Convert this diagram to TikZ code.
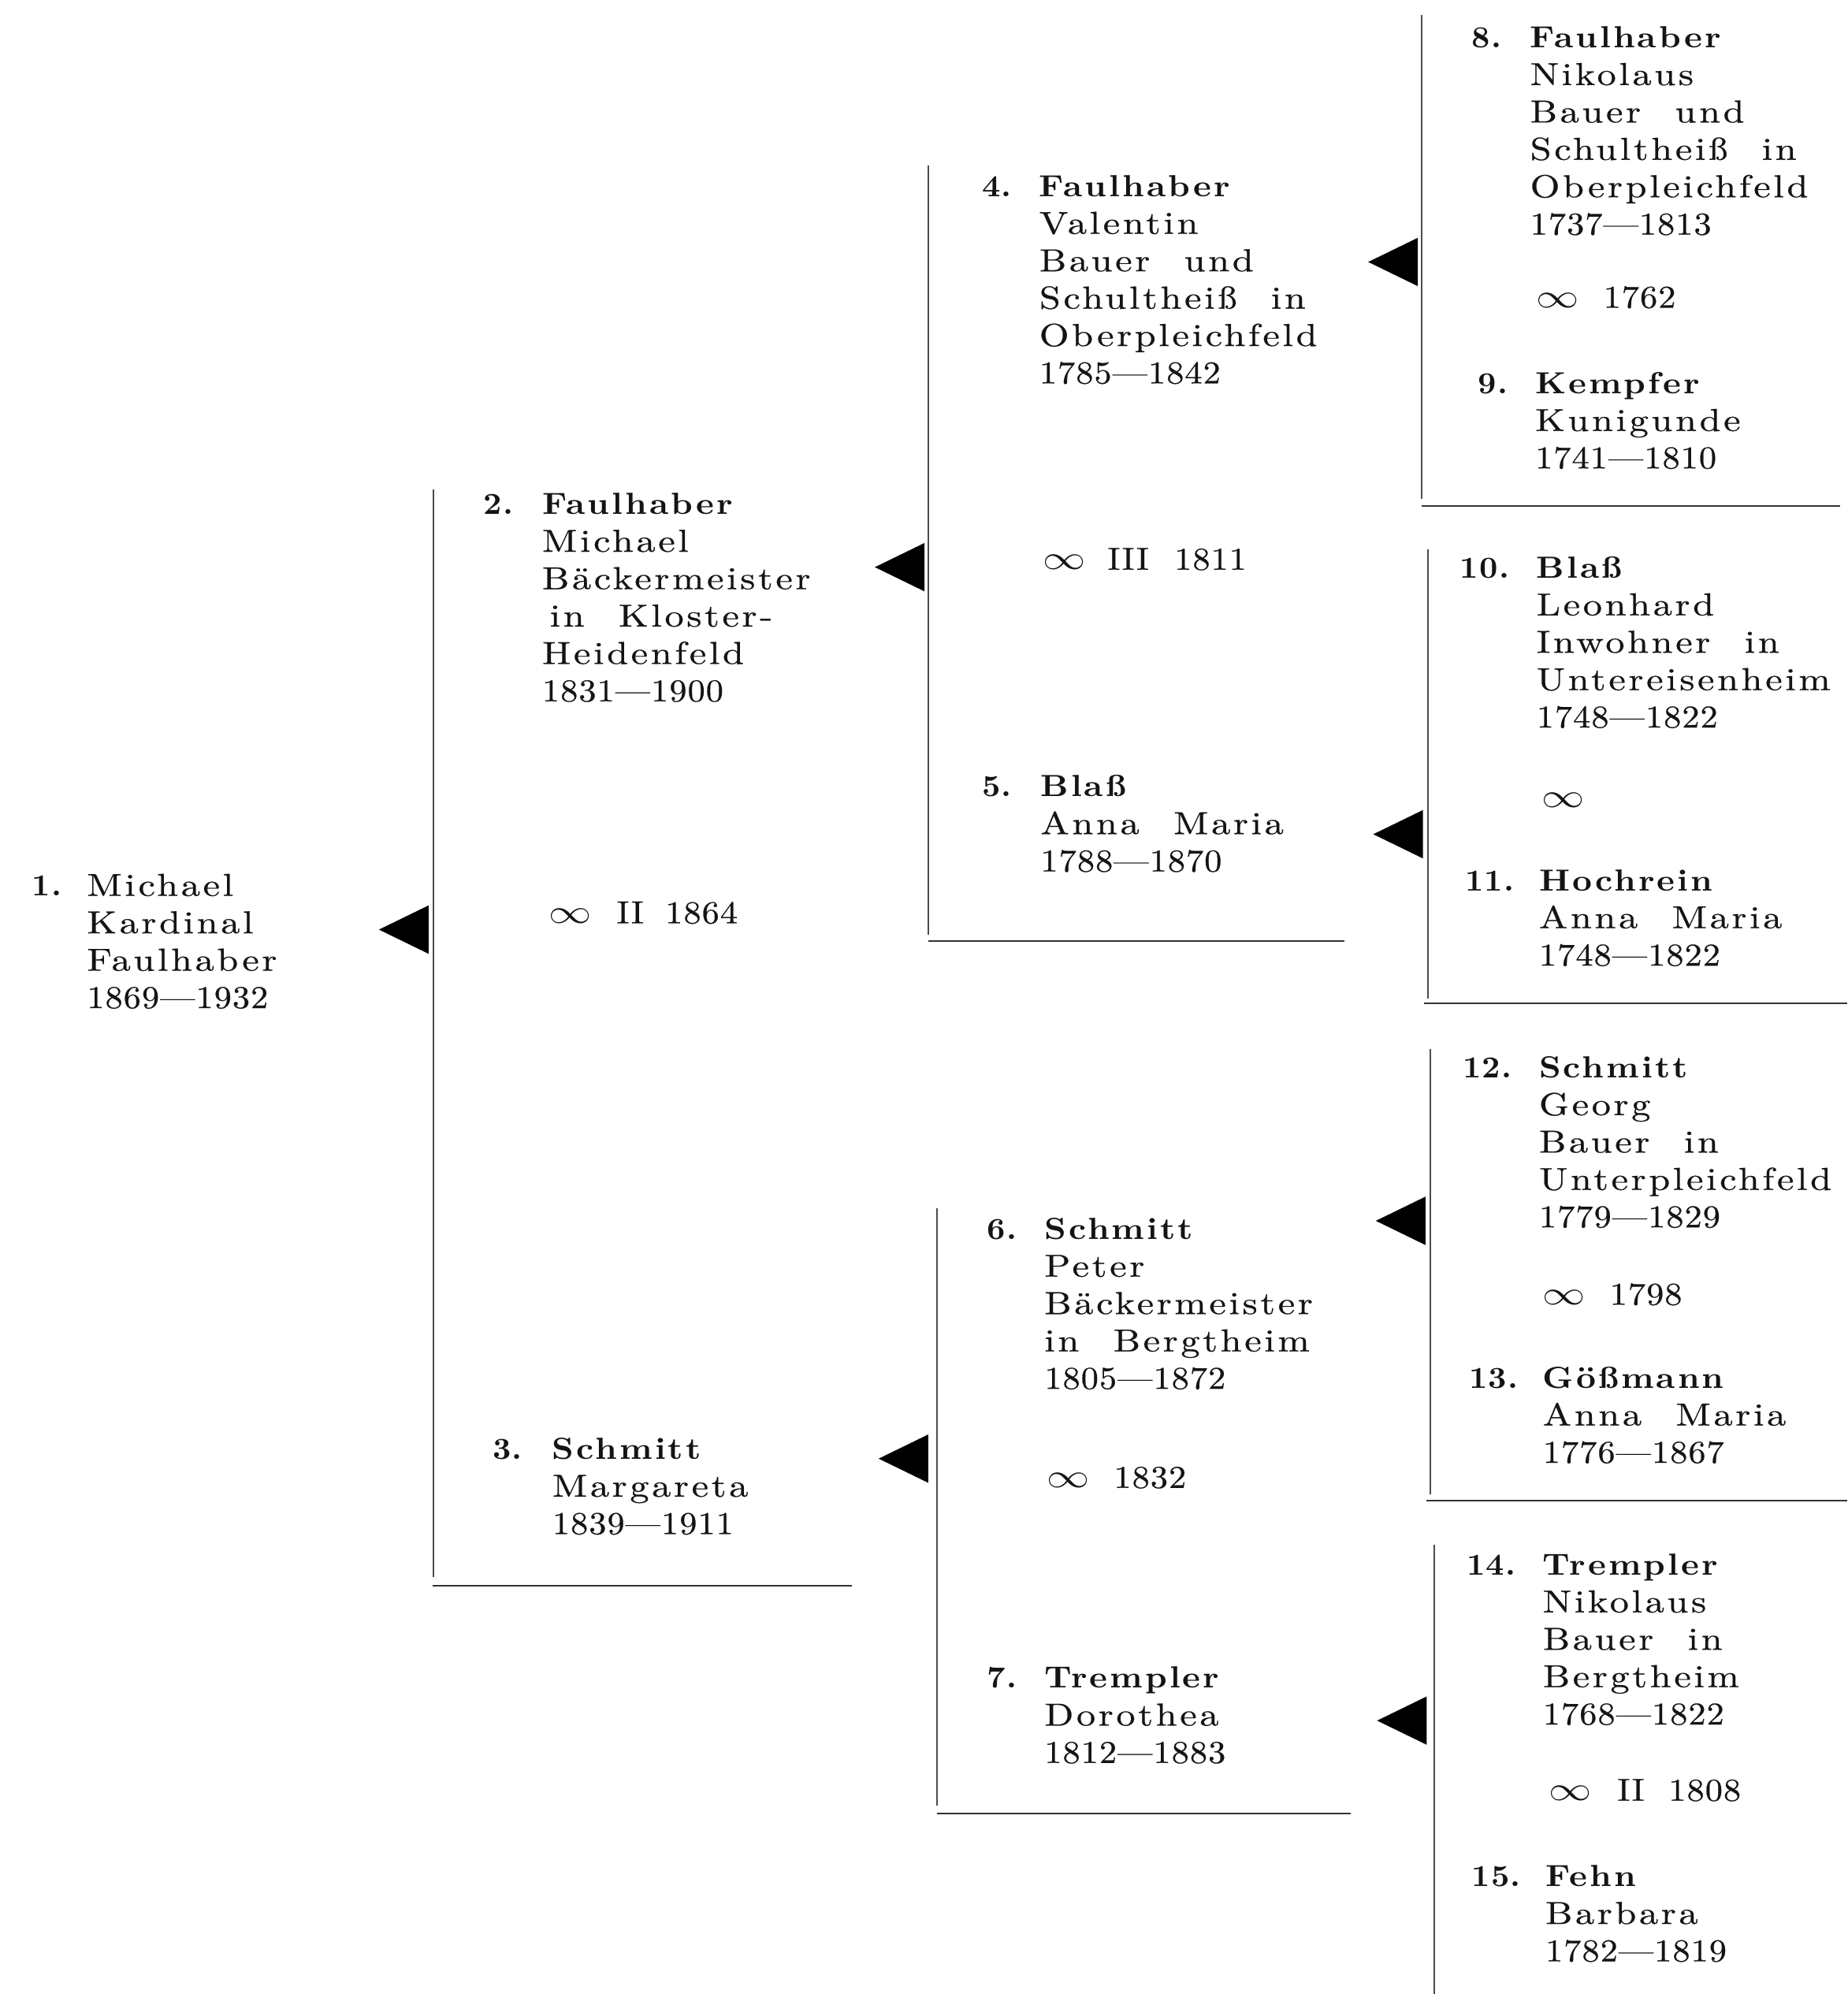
\documentclass[tikz,border=0pt]{standalone}
\usepackage{fontspec}
\usepackage{graphicx}
\newfontfamily\gvfont{lmroman10-regular.otf}[FakeStretch=1.2,LetterSpace=9,WordSpace=2.2,FakeBold=0.5]
\newfontfamily\dtfont{lmroman10-regular.otf}[FakeStretch=1.1,LetterSpace=2.5,FakeBold=0.5]
\newfontfamily\snfont{lmroman10-bold.otf}[FakeStretch=1.12,LetterSpace=8]
\newfontfamily\nrfont{lmroman10-bold.otf}[FakeStretch=1.05,LetterSpace=3]
\newcommand\gv[1]{{\gvfont #1}}
\newcommand\dt[1]{{\dtfont #1}}
\newcommand\sn[1]{{\fontsize{12}{14}\selectfont\snfont #1}}
\newcommand\nr[1]{{\fontsize{12}{14}\selectfont\nrfont #1}}
\newcommand\infsym{\scalebox{1.4}[1.1]{$\infty$}}
\tikzset{
  txt/.style={anchor=base west, inner sep=0pt, font=\fontsize{12.5}{14}\selectfont, text=black!92},
  vline/.style={draw=black!70, line width=0.5pt},
  hline/.style={draw=black!80, line width=0.7pt},
  tri/.style={fill=black},
}
% id, number x, text x, first line centre y, number, lines
\newcommand\ahne[6]{%
  \node[txt] (#1n) at ({#2},{#4+9.5}) {\nr{#5}};
  \foreach \ln [count=\i from 0] in {#6} {
    \node[txt] (#1l\i) at ({#3},{#4+9.5+\i*29.4}) {\ln};
  }
}
% id, x, centre y, content
\newcommand\marr[4]{\node[txt] (#1) at ({#2},{#3+8}) {#4};}
% id, tip x, centre y
\newcommand\ptri[3]{%
  \coordinate (#1t) at ({#2},{#3});
  \coordinate (#1a) at ({#2+39},{#3-19});
  \coordinate (#1b) at ({#2+39},{#3+19});
  \fill[tri] (#1t) -- (#1a) -- (#1b) -- cycle;
}
\newcommand\bracket[6]{% id, vx, vtop, vbottom, hy, hx0
  \coordinate (#1vt) at ({#2},{#3});
  \coordinate (#1vb) at ({#2},{#4});
  \draw[vline] (#1vt) -- (#1vb);
  \coordinate (#1h0) at ({#6},{#5});
}
\begin{document}
\begin{tikzpicture}[x=0.5pt,y=-0.5pt]
\useasboundingbox (0,0) rectangle (1453,1568);
\fill[white] (0,0) rectangle (1453,1568);

% ---------- bracket lines ----------
\bracket{b2}{341}{385}{1240}{1247}{340}
\coordinate (b2h1) at (670,1247);
\draw[hline] (b2h0) -- (b2h1);

\bracket{b4}{730}{130}{735}{740}{730}
\coordinate (b4h1) at (1057,740);
\draw[hline] (b4h0) -- (b4h1);

\bracket{b6}{737}{950}{1420}{1426}{737}
\coordinate (b6h1) at (1062,1426);
\draw[hline] (b6h0) -- (b6h1);

\bracket{b8}{1118}{12}{392}{398}{1118}
\coordinate (b8h1) at (1447,398);
\draw[hline] (b8h0) -- (b8h1);

\bracket{b10}{1123}{432}{785}{789}{1120}
\coordinate (b10h1) at (1453,789);
\draw[hline] (b10h0) -- (b10h1);

\bracket{b12}{1125}{825}{1175}{1180}{1122}
\coordinate (b12h1) at (1453,1180);
\draw[hline] (b12h0) -- (b12h1);

\coordinate (b14vt) at (1128,1215);
\coordinate (b14vb) at (1128,1568);
\draw[vline] (b14vt) -- (b14vb);

% ---------- triangles ----------
\ptri{a1}{298}{731}
\ptri{a2}{688}{446}
\ptri{a6}{691}{1147}
\ptri{a8}{1076}{206}
\ptri{a10}{1080}{656}
\ptri{a12}{1082}{960}
\ptri{a14}{1083}{1353}

% ---------- persons ----------
\ahne{p1}{25}{68}{695}{1.}{\gv{Michael},\gv{Kardinal},\gv{Faulhaber},\dt{1869—1932}}
\ahne{p2}{380}{426}{395}{2.}{\sn{Faulhaber},\gv{Michael},\gv{Bäckermeister},\gv{\hspace{3pt}in Kloster-},\gv{Heidenfeld},\dt{1831—1900}}
\ahne{p3}{387}{434}{1138}{3.}{\sn{Schmitt},\gv{Margareta},\dt{1839—1911}}
\ahne{p4}{772}{817}{145}{4.}{\sn{Faulhaber},\gv{Valentin},\gv{Bauer und},\gv{Schultheiß in},\gv{Oberpleichfeld},\dt{1785—1842}}
\ahne{p5}{772}{818}{617}{5.}{\sn{Blaß},\gv{Anna Maria},\dt{1788—1870}}
\ahne{p6}{776}{821}{965}{6.}{\sn{Schmitt},\gv{Peter},\gv{Bäckermeister},\gv{in Bergtheim},\dt{1805—1872}}
\ahne{p7}{776}{821}{1318}{7.}{\sn{Trempler},\gv{Dorothea},\dt{1812—1883}}
\ahne{p8}{1157}{1203}{28}{8.}{\sn{Faulhaber},\gv{Nikolaus},\gv{Bauer und},\gv{Schultheiß in},\gv{Oberpleichfeld},\dt{1737—1813}}
\ahne{p9}{1162}{1207}{300}{9.}{\sn{Kempfer},\gv{Kunigunde},\dt{1741—1810}}
\ahne{p10}{1148}{1208}{445}{10.}{\sn{Blaß},\gv{Leonhard},\gv{Inwohner in},\gv{Untereisenheim},\dt{1748—1822}}
\ahne{p11}{1152}{1210}{691}{11.}{\sn{Hochrein},\gv{Anna Maria},\dt{1748—1822}}
\ahne{p12}{1150}{1210}{838}{12.}{\sn{Schmitt},\gv{Georg},\gv{Bauer in},\gv{Unterpleichfeld},\dt{1779—1829}}
\ahne{p13}{1155}{1213}{1082}{13.}{\sn{Gößmann},\gv{Anna Maria},\dt{1776—1867}}
\ahne{p14}{1153}{1213}{1229}{14.}{\sn{Trempler},\gv{Nikolaus},\gv{Bauer in},\gv{Bergtheim},\dt{1768—1822}}
\ahne{p15}{1157}{1215}{1474}{15.}{\sn{Fehn},\gv{Barbara},\dt{1782—1819}}

% ---------- marriages ----------
\marr{m2}{431}{718}{\infsym\hspace{10pt}\dt{II}\hspace{8.5pt}\dt{1864}}
\marr{m4}{820}{440}{\infsym\hspace{8.5pt}\dt{III}\hspace{10pt}\dt{1811}}
\marr{m6}{823}{1162}{\infsym\hspace{9.5pt}\dt{1832}}
\marr{m8}{1208}{234}{\infsym\hspace{9.5pt}\dt{1762}}
\marr{m10}{1212}{627}{\infsym}
\marr{m12}{1213}{1018}{\infsym\hspace{9.5pt}\dt{1798}}
\marr{m14}{1218}{1408}{\infsym\hspace{10pt}\dt{II}\hspace{9.5pt}\dt{1808}}
\end{tikzpicture}
\end{document}
